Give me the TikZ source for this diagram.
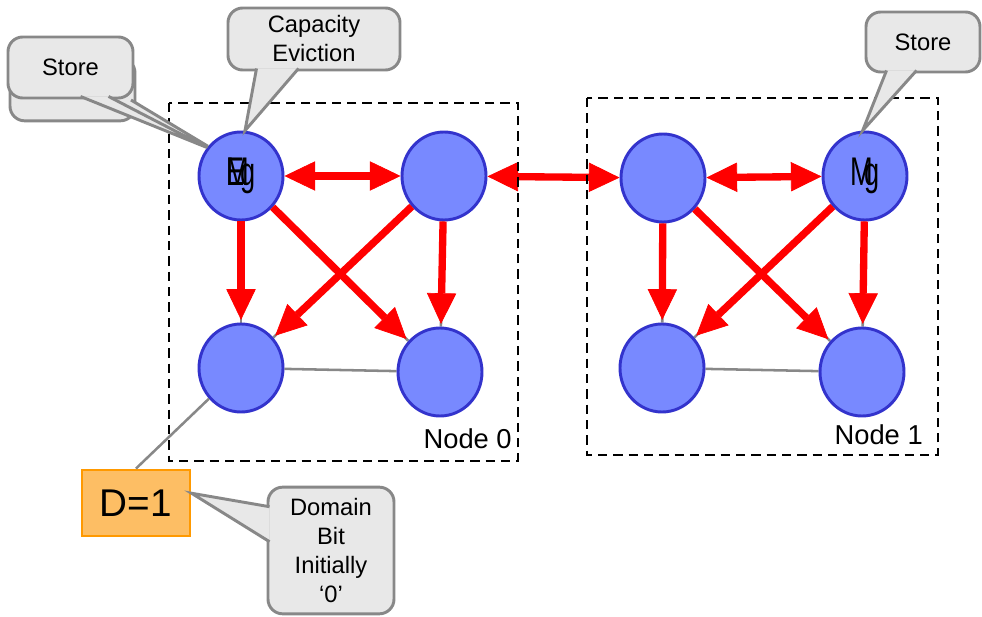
\documentclass[tikz,border=0pt]{standalone}
\usepackage{fontspec}
\setmainfont{Liberation Sans}
\usetikzlibrary{arrows.meta,shapes.geometric,calc,backgrounds}

\definecolor{cachefill}{RGB}{120,137,255}
\definecolor{cacheline}{RGB}{51,51,204}
\definecolor{msgred}{RGB}{255,0,0}
\definecolor{linkgrey}{RGB}{136,136,136}
\definecolor{bubblefill}{RGB}{232,232,232}
\definecolor{bubbleline}{RGB}{136,136,136}
\definecolor{dbitfill}{RGB}{253,190,100}
\definecolor{dbitline}{RGB}{255,153,0}

\tikzset{
  cache/.style={ellipse, draw=cacheline, fill=cachefill, line width=2.2pt, minimum width=63pt, minimum height=66pt, inner sep=0pt, font=\fontsize{30pt}{30pt}\selectfont},
  link/.style={draw=linkgrey, line width=1.9pt},
  msg/.style={draw=msgred, line width=5.5pt, -{Triangle[length=23pt,width=22pt,line width=0.5pt]}, shorten >=2pt},
  msgboth/.style={draw=msgred, line width=5.5pt, {Triangle[length=23pt,width=22pt,line width=0.5pt]}-{Triangle[length=23pt,width=22pt,line width=0.5pt]}},
  domainbox/.style={draw, line width=1.9pt, dash pattern=on 7pt off 4.5pt},
  bubble/.style={draw=bubbleline, fill=bubblefill, line width=2.2pt, rounded corners=11pt, align=center, inner sep=0pt, font=\fontsize{17.8pt}{21.75pt}\selectfont},
  pointer/.style={fill=bubblefill},
  pointerline/.style={draw=bubbleline, line width=2.2pt},
  dbitbox/.style={draw=dbitline, fill=dbitfill, line width=2.2pt, minimum width=81pt, minimum height=49.5pt, inner sep=0pt, font=\fontsize{29pt}{29pt}\selectfont},
  nodelabel/.style={anchor=base east, inner sep=0pt, font=\fontsize{20.5pt}{20.5pt}\selectfont},
}

\begin{document}
\begin{tikzpicture}[x=0.75pt,y=0.75pt,yscale=-1,xscale=1]
\useasboundingbox (0,0) rectangle (982,617);

%Shape: Circle (node 0)
\node[cache] (n0a) at (241,176) {\scalebox{0.68}[1]{\rlap{E}\rlap{M}\kern15pt g}};
\node[cache] (n0b) at (444,176) {};
\node[cache] (n0c) at (241,368) {};
\node[cache] (n0d) at (440,372) {};
%Shape: Circle (node 1)
\node[cache] (n1a) at (663,178) {};
\node[cache] (n1b) at (865,176) {\scalebox{0.68}[1]{\rlap{M}\kern15pt g}};
\node[cache] (n1c) at (662,368) {};
\node[cache] (n1d) at (862,372) {};

%Rectangle: domain bit
\node[dbitbox] (dbit) at (136,503) {D=1};

%Straight Lines (grey links)
\begin{scope}[on background layer]
\draw[link] (n0a) -- (n0c);
\draw[link] (n0a) -- (n0d);
\draw[link] (n0b) -- (n0c);
\draw[link] (n0b) -- (n0d);
\draw[link] (n0c) -- (n0d);
\draw[link] (n1a) -- (n1c);
\draw[link] (n1a) -- (n1d);
\draw[link] (n1b) -- (n1c);
\draw[link] (n1b) -- (n1d);
\draw[link] (n1c) -- (n1d);
\end{scope}
\draw[link] (n0c) -- (dbit.north);

%Straight Lines (red arrows)
\draw[msgboth] (n0a) -- (n0b);
\draw[msgboth] (n0b) -- (n1a);
\draw[msgboth] (n1a) -- (n1b);
\draw[msg] (n0a) -- (n0c);
\draw[msg] (n0a) -- (n0d);
\draw[msg] (n0b) -- (n0c);
\draw[msg] (n0b) -- (n0d);
\draw[msg] (n1a) -- (n1c);
\draw[msg] (n1a) -- (n1d);
\draw[msg] (n1b) -- (n1c);
\draw[msg] (n1b) -- (n1d);

%Shape: Dashed Rectangle
\draw[domainbox] (169,103) rectangle (518,461);
\draw[domainbox] (587,98) rectangle (938,455);

% Text Node
\node[nodelabel] (lbl0) at (512,448) {Node 0};
\node[nodelabel] (lbl1) at (923,444) {Node 1};

%Shape: Callout (store, node 0)
\node[bubble, minimum width=93.75pt, minimum height=47pt] (storeBack) at (72.5,89.5) {};
\fill[pointer] (100,100) -- (n0a.138) -- (131,100) -- cycle;
\draw[pointerline] (100,100) -- (n0a.138) -- (131,100);
\node[bubble, minimum width=93.75pt, minimum height=45.75pt] (store0) at (70.5,67.5) {Store};
\fill[pointer] ($(store0.south west)+(74,-3)$) -- (n0a.140) -- ($(store0.south west)+(102,-3)$) -- cycle;
\draw[pointerline] ($(store0.south west)+(74,-3)$) -- (n0a.140) -- ($(store0.south west)+(102,-3)$);

%Shape: Callout (capacity eviction)
\node[bubble, minimum width=129pt, minimum height=46.5pt] (cap) at (314,39) {Capacity\\Eviction};
\fill[pointer] ($(cap.south west)+(30,-3)$) -- (n0a.85) -- ($(cap.south west)+(72,-3)$) -- cycle;
\draw[pointerline] ($(cap.south west)+(30,-3)$) -- (n0a.85) -- ($(cap.south west)+(72,-3)$);

%Shape: Callout (store, node 1)
\node[bubble, minimum width=85.5pt, minimum height=45pt] (store1) at (923,42) {Store};
\fill[pointer] ($(store1.south west)+(22,-3)$) -- (n1b.93) -- ($(store1.south west)+(52,-3)$) -- cycle;
\draw[pointerline] ($(store1.south west)+(22,-3)$) -- (n1b.93) -- ($(store1.south west)+(52,-3)$);

%Shape: Callout (domain bit)
\node[bubble, minimum width=94.5pt, minimum height=95pt] (dom) at (331,550.5) {Domain\\Bit\\Initially\\‘0’};
\fill[pointer] ($(dom.north west)+(3,21)$) -- (dbit.10) -- ($(dom.north west)+(3,56)$) -- cycle;
\draw[pointerline] ($(dom.north west)+(3,21)$) -- (dbit.10) -- ($(dom.north west)+(3,56)$);

\end{tikzpicture}
\end{document}
